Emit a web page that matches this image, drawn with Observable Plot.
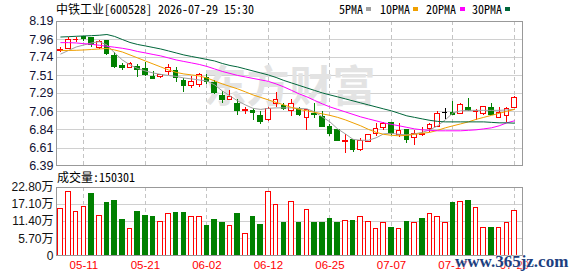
<!DOCTYPE html>
<html><head><meta charset="utf-8">
<script src="https://cdn.jsdelivr.net/npm/d3@7"></script>
<script src="https://cdn.jsdelivr.net/npm/@observablehq/plot@0.6"></script>
<style>
body{margin:0;background:#fff;}
#wrap{position:relative;width:578px;height:276px;overflow:hidden;background:#fff;}
.t{position:absolute;font-family:"Noto Sans Mono CJK SC","Noto Sans CJK SC",monospace;font-size:12px;line-height:14px;color:#000;white-space:nowrap;}
.sw{position:absolute;width:5px;height:4px;}
#p1,#p2{position:absolute;left:0;}
#wm2{position:absolute;left:455px;top:252px;font-family:"Liberation Serif",serif;font-weight:bold;font-size:17px;color:#1d3f80;text-shadow:0 0 2px #fff,0 0 2px #fff;white-space:nowrap;}
</style></head><body>
<div id="wrap">
 <div id="p1" style="top:0"></div>
 <div id="p2" style="top:170px"></div>
 <div class="t" id="title" style="left:56px;top:2px;"></div>
 <div id="legend"></div>
 <div class="t" id="vlab" style="left:57px;top:170px;"></div>
 <div id="wm2">www.365jz.com</div>
</div>
<script>
const stockName = "中铁工业[600528] 2026-07-29 15:30";
const dates = ["05-06","05-07","05-08","05-11","05-12","05-13","05-14","05-15","05-18","05-19","05-20","05-21","05-22","05-25","05-26","05-27","05-28","05-29","06-01","06-02","06-03","06-04","06-05","06-08","06-09","06-10","06-11","06-12","06-15","06-16","06-17","06-18","06-22","06-23","06-24","06-25","06-26","06-29","06-30","07-01","07-02","07-03","07-06","07-07","07-08","07-09","07-10","07-13","07-14","07-15","07-16","07-17","07-20","07-21","07-22","07-23","07-24","07-27","07-28","07-29"];
const open  = [7.82,7.84,7.95,7.99,7.98,7.85,7.94,7.76,7.63,7.61,7.62,7.59,7.50,7.50,7.55,7.57,7.45,7.38,7.40,7.48,7.42,7.26,7.21,7.16,7.07,7.07,7.01,6.96,7.16,7.13,7.07,7.09,6.99,7.03,7.00,6.87,6.83,6.69,6.71,6.59,6.69,6.78,6.86,6.92,6.77,6.83,6.73,6.77,6.85,6.87,7.05,7.05,7.04,7.11,7.06,7.03,7.11,6.99,7.01,7.11];
const high  = [7.86,7.98,7.98,8.00,7.98,7.95,7.95,7.80,7.66,7.68,7.65,7.68,7.56,7.53,7.65,7.61,7.48,7.50,7.54,7.52,7.45,7.31,7.33,7.21,7.11,7.10,7.07,7.12,7.30,7.16,7.21,7.11,7.09,7.16,7.07,6.90,6.83,6.78,6.72,6.73,6.78,6.91,6.93,6.93,6.91,6.83,6.83,6.86,6.92,7.07,7.10,7.19,7.16,7.23,7.09,7.13,7.16,7.11,7.11,7.25];
const low   = [7.80,7.83,7.92,7.93,7.86,7.83,7.76,7.60,7.58,7.60,7.49,7.50,7.47,7.48,7.51,7.43,7.30,7.35,7.36,7.40,7.28,7.16,7.20,7.02,7.03,6.95,6.90,6.94,7.11,7.08,7.00,7.00,6.83,6.98,6.86,6.75,6.69,6.54,6.56,6.57,6.68,6.76,6.83,6.77,6.74,6.67,6.64,6.75,6.80,6.86,6.96,7.01,7.03,7.06,6.95,7.02,7.01,6.98,6.93,7.10];
const close = [7.83,7.95,7.96,7.97,7.89,7.93,7.78,7.62,7.61,7.66,7.58,7.52,7.47,7.52,7.61,7.48,7.38,7.43,7.52,7.43,7.29,7.21,7.24,7.07,7.08,7.05,6.93,7.10,7.21,7.09,7.16,7.02,7.08,7.02,6.87,6.78,6.70,6.70,6.59,6.70,6.77,6.85,6.91,6.78,6.82,6.71,6.79,6.78,6.90,7.04,7.05,7.02,7.14,7.07,7.07,7.12,7.02,7.05,7.09,7.23];
const volume = [156000,214000,147000,164000,205000,134000,175000,184000,118000,88000,145000,134000,128000,114000,141000,144000,142000,128000,128000,98000,118000,111000,100000,141000,74000,128000,104000,213000,171000,111000,180000,111000,153000,111000,111000,124000,108000,117000,117000,130000,113000,90000,108000,94000,90000,114000,111000,124000,141000,131000,111000,177000,181000,184000,161000,94000,94000,94000,108000,150301];
const ma5  = [7.780,7.824,7.867,7.892,7.917,7.933,7.892,7.793,7.706,7.644,7.600,7.569,7.544,7.526,7.513,7.501,7.482,7.470,7.457,7.445,7.396,7.321,7.259,7.197,7.147,7.104,7.091,7.104,7.110,7.110,7.110,7.104,7.098,7.060,6.998,6.936,6.849,6.787,6.719,6.707,6.707,6.738,6.787,6.794,6.781,6.775,6.787,6.806,6.837,6.887,6.961,7.048,7.073,7.079,7.079,7.079,7.079,7.079,7.085,7.091];
const ma10 = [7.824,7.824,7.826,7.830,7.836,7.842,7.849,7.830,7.805,7.768,7.731,7.693,7.656,7.619,7.582,7.551,7.532,7.520,7.507,7.482,7.445,7.408,7.377,7.346,7.309,7.271,7.240,7.209,7.178,7.147,7.116,7.091,7.073,7.054,7.036,7.017,6.992,6.961,6.924,6.887,6.843,6.806,6.781,6.769,6.763,6.769,6.781,6.794,6.806,6.831,6.862,6.887,6.911,6.936,6.967,6.992,7.017,7.042,7.067,7.091];
const ma20 = [7.921,7.921,7.917,7.908,7.901,7.888,7.876,7.864,7.851,7.834,7.811,7.793,7.774,7.756,7.731,7.706,7.687,7.669,7.650,7.625,7.594,7.563,7.538,7.513,7.495,7.476,7.458,7.439,7.408,7.371,7.328,7.284,7.247,7.203,7.160,7.122,7.091,7.060,7.029,6.998,6.973,6.949,6.924,6.905,6.887,6.868,6.849,6.837,6.831,6.825,6.825,6.825,6.825,6.831,6.837,6.849,6.862,6.887,6.924,6.949];
const ma30 = [7.991,7.995,8.000,8.004,8.008,8.013,8.022,7.998,7.960,7.923,7.898,7.880,7.861,7.842,7.818,7.793,7.768,7.749,7.731,7.712,7.693,7.662,7.637,7.619,7.594,7.569,7.544,7.519,7.488,7.451,7.420,7.389,7.358,7.327,7.296,7.271,7.247,7.222,7.197,7.172,7.147,7.122,7.097,7.073,7.042,7.011,6.992,6.973,6.955,6.942,6.936,6.936,6.936,6.936,6.936,6.936,6.930,6.924,6.924,6.920];
const maLabels = ["5PMA","10PMA","20PMA","30PMA"];
const maColors = ["#a0a0a0","#f0a000","#ff00ff","#00663a"];
const priceTickLabels = ["6.39","6.61","6.84","7.06","7.29","7.51","7.74","7.96","8.19"];
const volTickValues = [0,57000,114000,171000,228000];
const volTickLabels = ["0","5.70万","11.40万","17.10万","22.80万"];
const xTickLabels = ["05-11","05-21","06-02","06-12","06-25","07-07","07-17","07-29"];
const volName = "成交量";
const watermark = "东方财富";

const RED = "#ff0000", GREEN = "#008000";
const N = dates.length;
const rows = dates.map((d,i)=>({i, o:open[i], h:high[i], l:low[i], c:close[i], v:volume[i],
  up: i === 0 ? true : close[i] >= close[i-1]}));
const cColor = d => d.c > d.o ? RED : d.c < d.o ? GREEN : "#000000";
const priceTicks = priceTickLabels.map(Number);
const tickIdx = xTickLabels.map(t => dates.indexOf(t));
const xOpt = {domain:[-0.56, N + 0.04], axis:null};
const HW = 0.3;

const p1 = Plot.plot({
  width:578, height:170, marginTop:20.5, marginBottom:4.7, marginLeft:56, marginRight:56,
  style:{fontFamily:"'Liberation Sans',Arial,sans-serif", background:"transparent", overflow:"visible"},
  x:xOpt,
  y:{domain:[6.39, 8.19], axis:null},
  marks:[
    Plot.ruleY(priceTicks.slice(1,-1), {stroke:"#d0d0d0", shapeRendering:"crispEdges"}),
    Plot.ruleX(tickIdx, {stroke:"#c4c4c4", strokeDasharray:"4,3", shapeRendering:"crispEdges"}),
    Plot.text([watermark], {text:d=>d, frameAnchor:"middle", dy:-5, fontSize:43, fontWeight:"bold", fill:"#e3e3e3", fontFamily:"Noto Sans CJK SC"}),
    Plot.ruleX(rows, {x:"i", y1:"l", y2:"h", stroke:cColor, shapeRendering:"crispEdges"}),
    Plot.rect(rows, {x1:d=>d.i-HW, x2:d=>d.i+HW, y1:"o", y2:"c", fill:d=>d.c>d.o?"#ffffff":cColor(d), stroke:cColor, shapeRendering:"crispEdges"}),
    Plot.ruleY(rows, {y:"c", x1:d=>d.i-HW-0.05, x2:d=>d.i+HW+0.05, stroke:cColor, shapeRendering:"crispEdges", filter:d=>d.c===d.o}),
    Plot.lineY(ma5,  {x:(d,i)=>i, stroke:maColors[0], strokeWidth:1}),
    Plot.lineY(ma10, {x:(d,i)=>i, stroke:maColors[1], strokeWidth:1}),
    Plot.lineY(ma20, {x:(d,i)=>i, stroke:maColors[2], strokeWidth:1}),
    Plot.lineY(ma30, {x:(d,i)=>i, stroke:maColors[3], strokeWidth:1}),
    Plot.frame({stroke:"#999999", shapeRendering:"crispEdges"}),
    Plot.axisY(priceTicks, {tickSize:0, tickPadding:3, fontSize:12.5, fill:"#111133", label:null,
      tickFormat:d=>priceTickLabels[priceTicks.indexOf(d)]})
  ]
});
document.getElementById("p1").appendChild(p1);

const p2 = Plot.plot({
  width:578, height:106, marginTop:17, marginBottom:20.7, marginLeft:56, marginRight:56,
  style:{fontFamily:"'Liberation Sans','Noto Sans CJK SC',Arial,sans-serif", background:"transparent", overflow:"visible"},
  x:xOpt,
  y:{domain:[0, volTickValues[volTickValues.length-1]], axis:null},
  marks:[
    Plot.ruleY(volTickValues.slice(1,-1), {stroke:"#d0d0d0", shapeRendering:"crispEdges"}),
    Plot.ruleX(tickIdx, {stroke:"#c4c4c4", strokeDasharray:"4,3", shapeRendering:"crispEdges"}),
    Plot.rect(rows, {x1:d=>d.i-HW, x2:d=>d.i+HW, y1:0, y2:"v", fill:d=>d.up?"#ffffff":GREEN, stroke:d=>d.up?RED:GREEN, shapeRendering:"crispEdges"}),
    Plot.frame({stroke:"#999999", shapeRendering:"crispEdges"}),
    Plot.axisY(volTickValues, {tickSize:0, tickPadding:3, fontSize:12, fill:"#111111", label:null,
      tickFormat:d=>volTickLabels[volTickValues.indexOf(d)]}),
    Plot.axisX(tickIdx, {tickSize:0, tickPadding:5, fontSize:11.5, fill:RED, label:null,
      tickFormat:i=>dates[i]})
  ]
});
document.getElementById("p2").appendChild(p2);

document.getElementById("title").textContent = stockName;
document.getElementById("vlab").textContent = volName + ":" + volume[N-1];
const legend = document.getElementById("legend");
const textX = [339,380,426,472], swX = [366,413,460,505];
maLabels.forEach((lab,k)=>{
  const t = document.createElement("div");
  t.className = "t"; t.style.left = textX[k]+"px"; t.style.top = "2px"; t.textContent = lab;
  legend.appendChild(t);
  const s = document.createElement("div");
  s.className = "sw"; s.style.left = swX[k]+"px"; s.style.top = "7px"; s.style.background = maColors[k];
  legend.appendChild(s);
});
</script>
</body></html>
